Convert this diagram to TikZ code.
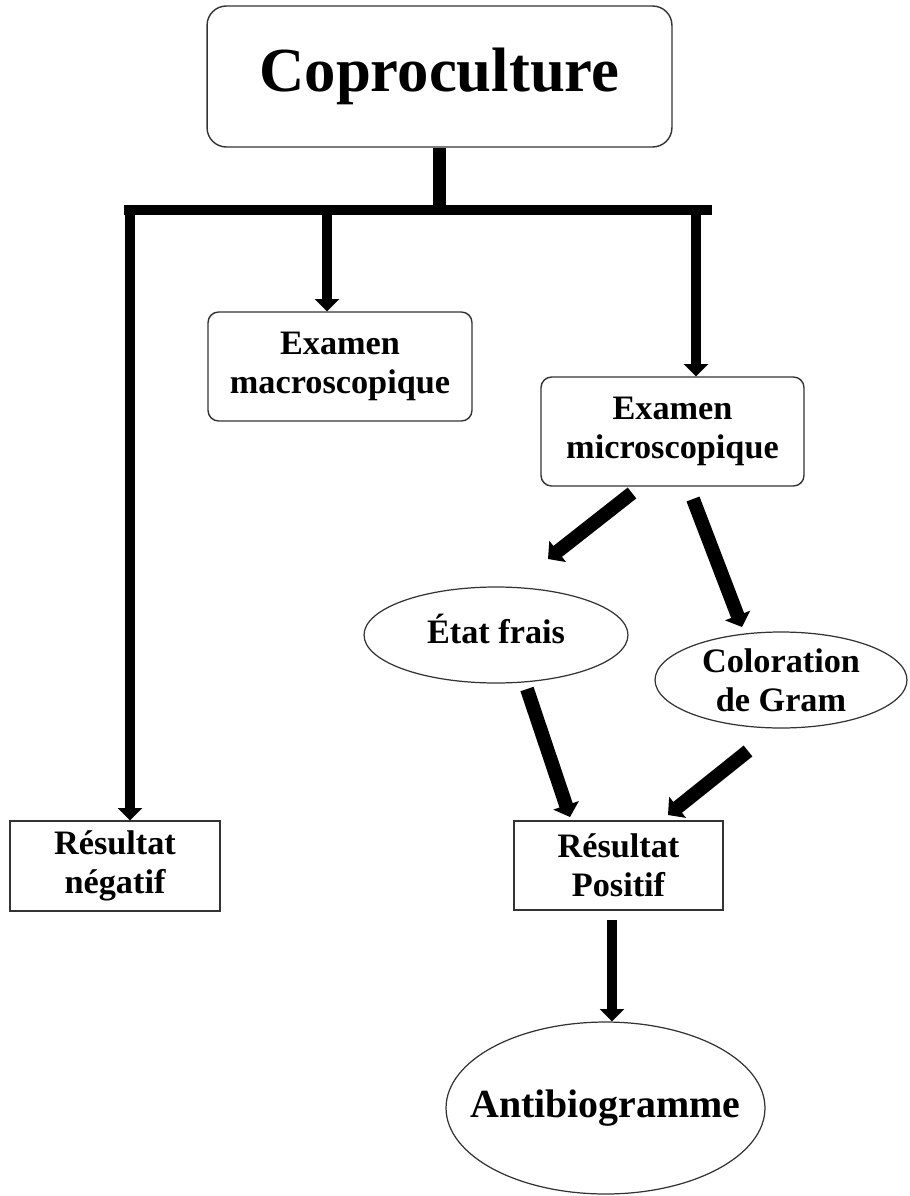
\documentclass[tikz,border=0pt]{standalone}
\usepackage{fontspec}
\setmainfont{Liberation Serif}
\usetikzlibrary{shapes}
\usetikzlibrary{positioning}
\usetikzlibrary{arrows.meta}
\tikzset{
    mynoder/.style = {rectangle, rounded corners=6pt, draw=black!80, line width=0.8pt, inner sep=0, align=center, font=\fontsize{19.5}{22}\selectfont\bfseries, text=black},
    mynodes/.style = {rectangle, draw=black!80, line width=0.8pt, inner sep=0, align=center, font=\fontsize{19.5}{22}\selectfont\bfseries, text=black},
    mynodee/.style = {ellipse, draw=black!80, line width=0.7pt, inner sep=0, align=center, font=\fontsize{19.5}{22}\selectfont\bfseries, text=black},
    edgen/.style = {-, line width=6.2pt, black},
    edgev/.style = {-{Triangle[width=13.6pt,length=7pt]}, line width=6pt, black},
    edged/.style = {-{Triangle[width=15pt,length=7pt]}, line width=7.9pt, black}
}

\begin{document}
\begin{tikzpicture}[x=0.02cm, y=-0.02cm]
\path[fill=white, use as bounding box] (0,0) rectangle (909,1196);

\node[mynoder, rounded corners=11pt, minimum width=9.3cm, minimum height=2.82cm, font=\fontsize{35.7}{40}\selectfont\bfseries] at (439.5, 76.5) (cop) {Coproculture};
\node[mynoder, minimum width=5.28cm, minimum height=2.18cm] at (340.0, 366.5) (macro) {Examen\\macroscopique};
\node[mynoder, minimum width=5.26cm, minimum height=2.18cm] at (672.5, 431.5) (micro) {Examen\\microscopique};
\node[mynodee, minimum width=5.28cm, minimum height=1.92cm, text depth=0.75em] at (496.0, 635.0) (frais) {État frais};
\node[mynodee, minimum width=5.04cm, minimum height=1.92cm] at (781.0, 680.0) (gram) {Coloration\\de Gram};
\node[mynodes, minimum width=4.20cm, minimum height=1.80cm] at (115.0, 866.0) (neg) {Résultat\\négatif};
\node[mynodes, minimum width=4.18cm, minimum height=1.78cm] at (618.5, 865.5) (pos) {Résultat\\Positif};
\node[mynodee, minimum width=6.38cm, minimum height=3.44cm, inner xsep=-0.5cm, font=\fontsize{22.7}{26}\selectfont\bfseries] at (605.5, 1108.0) (anti) {Antibiogramme};

\coordinate (barl) at (124, 210);
\coordinate (barr) at (712, 210);
\coordinate (vneg) at (130, 205);
\coordinate (vmac) at (327, 205);
\coordinate (vmic) at (696, 205);
\coordinate (vant) at (612, 920);

\coordinate (d1a) at (632, 493);
\coordinate (d1b) at (548, 559);
\coordinate (d2a) at (693, 499);
\coordinate (d2b) at (742, 627);
\coordinate (d3a) at (527, 689);
\coordinate (d3b) at (570, 817);
\coordinate (d4a) at (748, 751);
\coordinate (d4b) at (668, 815);

\draw[edgen, line width=7.2pt] (cop.south) -- (cop.south |- barl);
\draw[edgen] (barl) -- (barr);
\draw[edgev] (vneg) -- (vneg |- neg.north);
\draw[edgev] (vmac) -- (vmac |- macro.north);
\draw[edgev] (vmic) -- (vmic |- micro.north);

\draw[edged] (d1a) -- (d1b);
\draw[edged] (d2a) -- (d2b);
\draw[edged] (d3a) -- (d3b);
\draw[edged] (d4a) -- (d4b);
\draw[edgev] (vant) -- (vant |- anti.north);

\end{tikzpicture}
\end{document}
